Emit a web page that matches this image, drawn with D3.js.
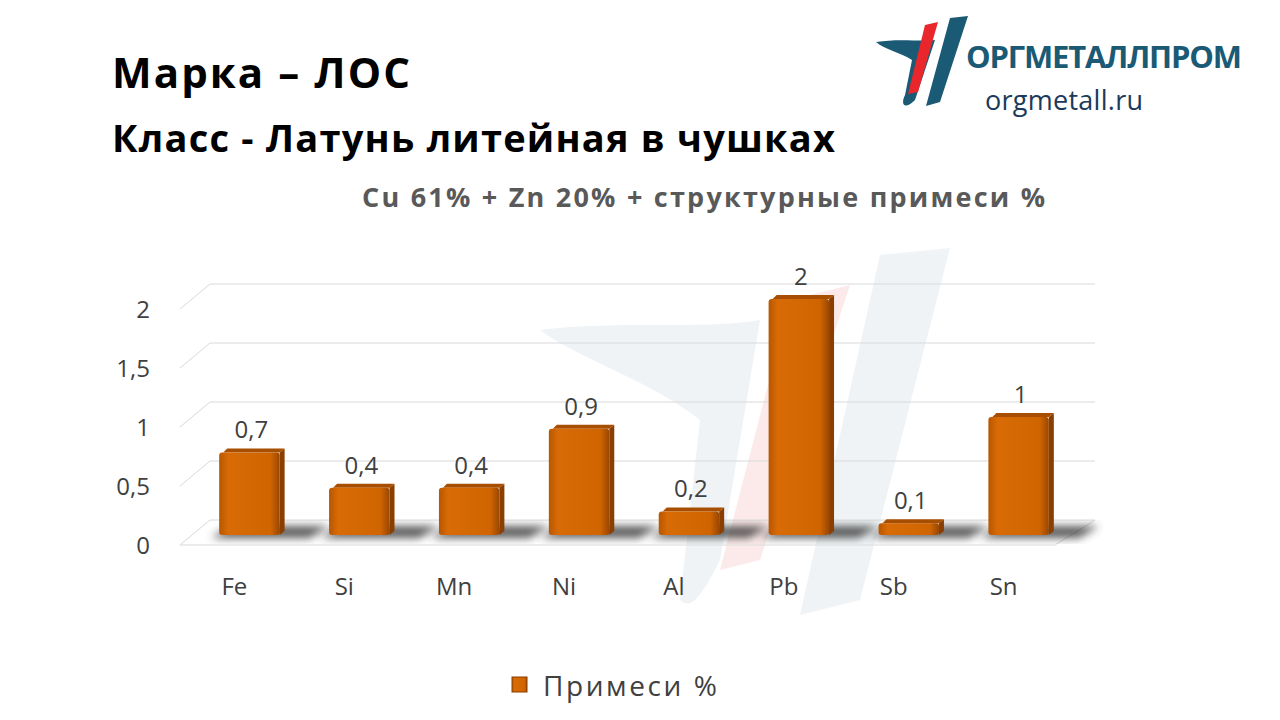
<!DOCTYPE html><html><head><meta charset="utf-8">
<script src="https://cdn.jsdelivr.net/npm/d3@7/dist/d3.min.js"></script>
<style>body{margin:0;background:#fff}text{font-family:"Open Sans","Liberation Sans",sans-serif}</style>
</head><body><svg id="c" width="1280" height="720"></svg><script>
const categories=["Fe","Si","Mn","Ni","Al","Pb","Sb","Sn"];
const values=[0.7,0.4,0.4,0.9,0.2,2,0.1,1];
const valueLabels=["0,7","0,4","0,4","0,9","0,2","2","0,1","1"];
const ticks=[0,0.5,1,1.5,2];
const tickLabels=["0","0,5","1","1,5","2"];
const svg=d3.select("#c");
const defs=svg.append("defs");
const g1=defs.append("linearGradient").attr("id","bg");
g1.append("stop").attr("offset","0").attr("stop-color","#b85600");
g1.append("stop").attr("offset","0.15").attr("stop-color","#d86b05");
g1.append("stop").attr("offset","0.85").attr("stop-color","#d06500");
g1.append("stop").attr("offset","1").attr("stop-color","#9a4700");
const f=defs.append("filter").attr("id","sh").attr("x","-50%").attr("y","-50%").attr("width","200%").attr("height","200%");
f.append("feGaussianBlur").attr("stdDeviation",4);
// watermark
const wm=svg.append("g").attr("opacity",0.16);
wm.append("path").attr("d","M540,330 C620,320 700,330 760,320 L720,560 C700,600 690,610 680,600 L700,420 C650,380 580,360 540,330Z").attr("fill","#9fb8c4");
wm.append("path").attr("d","M790,300 L850,285 L760,560 L720,570Z").attr("fill","#f08080");
wm.append("path").attr("d","M880,255 L950,248 L860,600 L800,615Z").attr("fill","#9fb8c4");
const x=d3.scaleBand().domain(categories).range([195,1073]).paddingInner(0.45).paddingOuter(0.22);
const yF=d3.scaleLinear().domain([0,2]).range([545,309]);
const yBar=d3.scaleLinear().domain([0,2]).range([535,299]);
const gridG=svg.append("g");
ticks.forEach((t,i)=>{
  const yf=yF(t), yb=yf-25;
  gridG.append("line").attr("x1",210).attr("x2",1095).attr("y1",yb).attr("y2",yb).attr("stroke","#d9d9d9");
  gridG.append("line").attr("x1",180).attr("x2",210).attr("y1",yf).attr("y2",yb).attr("stroke","#d9d9d9");
  svg.append("text").attr("x",150).attr("y",yf+9).attr("text-anchor","end").attr("font-size",24).attr("fill","#404040").text(tickLabels[i]);
});
gridG.append("line").attr("x1",180).attr("x2",1055).attr("y1",545).attr("y2",545).attr("stroke","#d9d9d9");
gridG.append("line").attr("x1",1055).attr("x2",1095).attr("y1",545).attr("y2",520).attr("stroke","#d9d9d9");
categories.forEach((c,i)=>{
  svg.append("path").attr("d",`M${x(c)-8},538 L${x(c)+x.bandwidth()+30},538 L${x(c)+x.bandwidth()+50},526 L${x(c)+12},526Z`).attr("fill","#333").attr("filter","url(#sh)").attr("opacity",0.8);
});
const bars=svg.append("g");
categories.forEach((c,i)=>{
  const bx=x(c), bw=x.bandwidth(), yt=yBar(values[i]);
  bars.append("path").attr("d",`M${bx+bw},${yt} L${bx+bw+5},${yt-4} L${bx+bw+5},531 L${bx+bw},535Z`).attr("fill","#8a3f00");
  bars.append("path").attr("d",`M${bx+4},${yt} L${bx+8},${yt-4} L${bx+bw+5},${yt-4} L${bx+bw},${yt}Z`).attr("fill","#a84e00");
  bars.append("rect").attr("x",bx).attr("y",yt).attr("width",bw).attr("height",535-yt).attr("rx",3).attr("fill","url(#bg)");
  svg.append("text").attr("x",bx+bw/2+2).attr("y",yt-14).attr("text-anchor","middle").attr("font-size",24).attr("fill","#404040").text(valueLabels[i]);
  svg.append("text").attr("x",bx+bw/2-15).attr("y",595).attr("text-anchor","middle").attr("font-size",24).attr("fill","#404040").text(c);
});
svg.append("text").attr("x",112).attr("y",88).attr("font-size",42).attr("font-weight","bold").attr("fill","#000").attr("textLength",298).text("Марка – ЛОС");
svg.append("text").attr("x",112).attr("y",152).attr("font-size",38).attr("font-weight","bold").attr("fill","#000").attr("textLength",723).text("Класс -  Латунь литейная в чушках");
svg.append("text").attr("x",362).attr("y",207).attr("font-size",27).attr("font-weight","bold").attr("fill","#595959").attr("textLength",683).text("Cu 61% + Zn 20% + структурные примеси %");
const lg=svg.append("g");
lg.append("path").attr("d","M876,42 C900,38 920,42 935,40 L915,100 C905,110 900,105 905,95 L912,60 C900,52 885,50 876,42Z").attr("fill","#1b5a75");
lg.append("path").attr("d","M925,25 L938,22 L918,92 L908,94Z").attr("fill","#e8262b");
lg.append("path").attr("d","M950,18 L968,16 L940,102 L926,106Z").attr("fill","#1b5a75");
svg.append("text").attr("x",966).attr("y",68).attr("font-size",31).attr("font-weight","bold").attr("fill","#1b5a75").attr("font-family","'DejaVu Sans Condensed',sans-serif").attr("textLength",276).text("ОРГМЕТАЛЛПРОМ");
svg.append("text").attr("x",985).attr("y",110).attr("font-size",27).attr("fill","#1b3a5a").attr("textLength",158).text("orgmetall.ru");
svg.append("rect").attr("x",512).attr("y",677).attr("width",15).attr("height",15).attr("fill","url(#bg)").attr("stroke","#8a3f00");
svg.append("text").attr("x",543).attr("y",696).attr("font-size",28).attr("fill","#404040").attr("textLength",174).text("Примеси %");
</script></body></html>
